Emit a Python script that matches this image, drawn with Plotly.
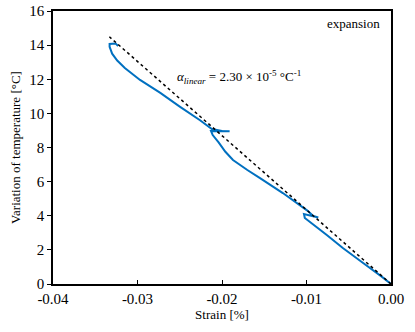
import plotly.graph_objects as go

# measured curve (strain in %, temperature variation in degC)
strain = [0.0, -0.0011, -0.0033, -0.0057, -0.0076, -0.0092, -0.0102, -0.0103,
          -0.0092, -0.0086, -0.0092, -0.0099, -0.0128, -0.0155, -0.0170, -0.0187,
          -0.0196, -0.0204, -0.0211, -0.0213, -0.0191, -0.0200, -0.0212, -0.0226,
          -0.0250, -0.0273, -0.0297, -0.0315, -0.0324, -0.0330, -0.0333, -0.0333,
          -0.0326, -0.0323]
temp = [0.0, 0.43, 1.23, 2.11, 2.87, 3.46, 3.87, 4.10,
        3.98, 3.90, 3.98, 4.30, 5.33, 6.21, 6.68, 7.27,
        7.75, 8.30, 8.73, 8.97, 8.95, 8.97, 9.08, 9.6,
        10.4, 11.2, 11.96, 12.66, 13.1, 13.5, 13.9, 14.07,
        14.1, 13.95]

# linear fit line
fit_strain = [0.0, -0.03333]
fit_temp = [0.0, 14.49]

x_ticks = [-0.04, -0.03, -0.02, -0.01, 0.0]
x_ticktext = ["-0.04", "-0.03", "-0.02", "-0.01", "0.00"]

fig = go.Figure()
fig.add_trace(go.Scatter(x=strain, y=temp, mode="lines",
                         line=dict(color="#0070C0", width=2), showlegend=False))
fig.add_trace(go.Scatter(x=fit_strain, y=fit_temp, mode="lines",
                         line=dict(color="black", width=1.5, dash="3px,3px"),
                         showlegend=False))

fig.add_annotation(x=-0.0256, y=12.15, xanchor="left", yanchor="middle",
                   text="<i>α<sub>linear</sub></i> = 2.30 × 10<sup>-5</sup> °C<sup>-1</sup>",
                   showarrow=False, font=dict(size=13, color="black"))
fig.add_annotation(x=-0.0011, y=15.25, xanchor="right", yanchor="middle",
                   text="expansion", showarrow=False, font=dict(size=13, color="black"))

fig.update_layout(
    width=415, height=332,
    margin=dict(l=53, r=24, t=11, b=48),
    plot_bgcolor="white", paper_bgcolor="white",
    font=dict(family="Liberation Serif", size=14, color="black"),
)
fig.update_xaxes(range=[-0.04, 0], tickvals=x_ticks, ticktext=x_ticktext,
                 tickfont=dict(family="Liberation Serif", size=15),
                 ticks="inside", ticklen=4, tickcolor="black", automargin=False,
                 showgrid=False, zeroline=False,
                 showline=True, linecolor="black", linewidth=1.5, mirror=True,
                 title=dict(text="Strain [%]", standoff=4, font=dict(size=13)))
fig.update_yaxes(range=[0, 16], dtick=2,
                 tickfont=dict(family="Liberation Serif", size=15),
                 ticks="outside", ticklen=4, tickcolor="black", automargin=False,
                 showgrid=False, zeroline=False,
                 showline=True, linecolor="black", linewidth=1.5, mirror=True,
                 title=dict(text="Variation of temperature [°C]", standoff=6,
                            font=dict(size=13)))

# drop the default page margin so the figure sits at the window's corner
fig.write_html("out.html", config={"displayModeBar": False},
               post_script="document.body.style.margin='0';")
